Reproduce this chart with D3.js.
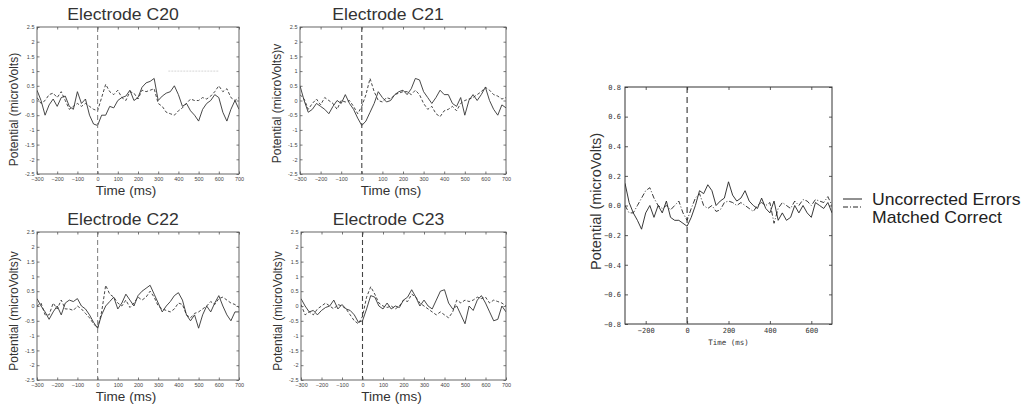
<!DOCTYPE html>
<html>
<head>
<meta charset="utf-8">
<script src="https://cdn.jsdelivr.net/npm/d3@7"></script>
<style>
  body { margin: 0; background: #fff; }
  svg { display: block; }
</style>
</head>
<body>
<svg id="chart" width="1026" height="411"></svg>
<script>
// Sample times (ms) shared by every trace, 20 ms apart
const times = d3.range(-300, 701, 20);

// Grand-average potentials (microvolts) per electrode
const c20Errors  = [0.35,0.0,-0.5,-0.15,0.05,-0.2,0.1,0.15,-0.2,-0.3,0.3,-0.1,0.05,-0.5,-0.8,-0.85,-0.5,-0.5,-0.2,-0.25,0.0,0.1,0.15,0.35,0.0,0.1,0.45,0.6,0.65,0.75,0.0,0.15,0.25,0.3,0.5,0.2,-0.2,-0.1,-0.35,-0.5,-0.7,-0.3,-0.1,0.0,0.2,0.1,-0.4,-0.7,-0.3,0.0,-0.3];
const c20Correct = [0.1,-0.1,0.0,0.2,0.25,0.1,0.3,0.0,-0.3,-0.2,-0.1,-0.2,-0.1,-0.2,-0.3,-0.35,0.1,0.55,0.3,0.2,0.35,0.1,0.0,0.3,0.25,0.05,0.35,0.3,0.35,0.4,-0.1,-0.2,-0.4,-0.45,-0.5,-0.35,-0.25,-0.1,0.05,0.0,0.0,0.1,0.05,0.15,0.3,0.5,0.3,0.4,0.1,0.0,0.1];
const c21Errors  = [0.5,0.0,-0.4,-0.3,-0.1,-0.2,-0.3,-0.45,-0.2,0.0,-0.1,0.2,-0.1,-0.3,-0.6,-0.85,-0.7,-0.4,-0.1,0.3,0.1,-0.05,0.0,0.2,0.3,0.35,0.2,0.4,0.75,0.7,0.3,0.1,-0.1,0.1,0.35,0.2,0.2,-0.1,-0.2,0.1,-0.5,0.0,0.2,0.0,0.2,0.45,0.0,-0.3,-0.5,-0.15,-0.25];
const c21Correct = [0.2,0.05,-0.3,-0.1,0.05,-0.15,0.1,0.0,-0.1,-0.3,0.0,-0.05,0.0,-0.2,-0.45,-0.2,0.2,0.75,0.3,0.0,-0.05,0.1,0.05,0.2,0.25,0.3,0.3,0.2,0.35,0.2,-0.1,-0.3,-0.2,-0.45,-0.55,-0.35,-0.3,-0.2,-0.35,-0.1,0.0,0.05,0.1,0.2,0.3,0.45,0.35,0.2,0.15,0.05,0.1];
const c22Errors  = [0.25,0.0,-0.2,-0.45,-0.2,0.0,-0.3,0.1,0.2,0.15,0.25,0.0,-0.1,-0.3,-0.55,-0.75,-0.3,0.0,0.15,0.3,-0.1,0.1,0.4,0.2,0.0,0.35,0.5,0.6,0.7,0.4,0.1,-0.2,0.0,0.15,0.35,0.45,0.2,-0.3,-0.5,-0.3,-0.75,-0.3,0.0,-0.2,0.1,0.35,0.0,-0.3,-0.5,-0.2,-0.2];
const c22Correct = [0.0,0.1,-0.3,-0.3,0.1,-0.1,0.2,-0.1,-0.1,-0.15,0.0,-0.1,-0.25,-0.4,-0.6,-0.75,-0.2,0.7,0.4,0.3,0.1,0.0,0.2,-0.05,0.1,0.3,0.2,0.3,0.5,0.3,0.0,-0.1,-0.15,-0.2,-0.1,0.1,0.05,-0.3,-0.4,-0.25,-0.2,-0.1,0.0,0.15,0.05,0.25,0.3,0.2,0.1,0.05,-0.05];
const c23Errors  = [0.25,0.0,-0.2,-0.15,-0.3,-0.15,-0.05,0.0,0.2,-0.1,0.05,-0.1,-0.15,-0.3,-0.55,-0.5,-0.1,0.35,0.3,0.0,-0.1,0.1,-0.1,0.0,-0.05,0.2,0.3,0.55,0.3,0.0,0.2,0.0,-0.1,0.2,0.5,0.55,0.1,-0.1,0.0,-0.3,-0.6,0.0,-0.15,0.2,0.35,0.1,-0.2,-0.5,-0.45,0.0,-0.2];
const c23Correct = [0.05,-0.3,-0.2,-0.3,-0.1,0.0,0.1,0.0,-0.1,0.05,0.0,-0.1,-0.3,-0.5,-0.6,-0.35,0.3,0.65,0.4,0.1,0.0,-0.05,0.0,-0.1,0.0,0.2,0.15,0.4,0.3,0.1,0.0,-0.1,-0.2,-0.3,-0.2,-0.3,-0.4,-0.2,0.2,0.1,0.2,0.15,0.2,0.3,0.25,0.3,0.1,0.2,0.15,0.1,0.0];
// Faint trace left on the C20 plot (microvolts)
const c20TraceTimes = [350, 600];
const c20TraceValues = [1.0, 1.0];

// Average over the electrode cluster
const meanErrors  = [0.15,0.02,-0.05,-0.1,-0.16,-0.05,0.0,-0.08,0.0,-0.05,0.03,-0.08,-0.1,-0.1,-0.12,-0.14,-0.08,0.0,0.1,0.08,0.14,0.1,0.0,0.03,0.05,0.16,0.07,0.03,0.05,0.1,0.03,0.0,-0.02,0.05,-0.02,-0.05,0.03,-0.1,-0.05,-0.1,-0.08,0.0,-0.05,0.0,-0.05,-0.08,0.02,0.0,-0.02,0.02,-0.05];
const meanCorrect = [0.0,-0.05,-0.05,0.0,0.05,0.1,0.12,0.05,0.0,-0.02,0.0,-0.03,0.0,0.03,-0.05,-0.1,-0.02,0.05,0.08,0.0,-0.02,0.0,-0.04,-0.03,0.02,0.03,0.02,0.0,0.02,0.0,-0.02,-0.04,0.0,0.02,0.0,0.02,-0.12,-0.02,0.02,0.0,-0.02,0.03,0.0,0.04,0.03,0.0,0.04,0.03,0.02,0.06,0.0];

// Axis ticks
const smallXTicks = [-300,-200,-100,0,100,200,300,400,500,600,700];
const smallYTicks = [-2.5,-2,-1.5,-1,-0.5,0,0.5,1,1.5,2,2.5];
const meanXTicks = [-200,0,200,400,600];
const meanYTicks = [-0.8,-0.6,-0.4,-0.2,0,0.2,0.4,0.6,0.8];

const legendLabels = ["Uncorrected Errors", "Matched Correct"];

const svg = d3.select("#chart");
const SX = 1.1; // horizontal stretch applied to the larger labels

function label(g, x, y, str, size, opts = {}) {
  return g.append("text")
    .attr("transform", `translate(${x},${y})` + (opts.rotate ? ` rotate(${opts.rotate})` : ` scale(${opts.sx || SX},1)`))
    .attr("text-anchor", opts.anchor || "middle")
    .attr("font-family", opts.family || "Liberation Sans, Arial, sans-serif")
    .attr("font-size", size)
    .attr("fill", opts.fill || "#333")
    .text(str);
}

function frameAxes(g, x, y, xTicks, yTicks, o) {
  const W = x.range()[1], H = y.range()[0];
  const ax = (axis, tr, showLabels) => {
    const a = g.append("g").attr("transform", tr).call(axis);
    a.select(".domain").remove();
    a.selectAll(".tick line").attr("stroke", o.stroke).attr("stroke-width", 0.8);
    if (!showLabels) a.selectAll(".tick text").remove();
    else a.selectAll(".tick text")
      .attr("font-family", o.tickFamily).attr("font-size", o.tickSize).attr("fill", o.tickFill);
    return a;
  };
  ax(d3.axisBottom(x).tickValues(xTicks).tickSizeInner(-o.tick).tickSizeOuter(0).tickPadding(o.padX).tickFormat(o.fx), `translate(0,${H})`, true);
  ax(d3.axisTop(x).tickValues(xTicks).tickSizeInner(-o.tick).tickSizeOuter(0), `translate(0,0)`, false);
  ax(d3.axisLeft(y).tickValues(yTicks).tickSizeInner(-o.tick).tickSizeOuter(0).tickPadding(o.padY).tickFormat(o.fy), `translate(0,0)`, true);
  ax(d3.axisRight(y).tickValues(yTicks).tickSizeInner(-o.tick).tickSizeOuter(0), `translate(${W},0)`, false);
  g.append("rect").attr("x", 0).attr("y", 0).attr("width", W).attr("height", H)
    .attr("fill", "none").attr("stroke", o.stroke).attr("stroke-width", o.frameWidth);
}

// ---- four electrode panels ----
const panels = [
  { name: "Electrode C20", ylab: "Potential (microVolts)",  err: c20Errors, cor: c20Correct, x0: 37,  y0: 27, x1: 239, y1: 174, zero: "#888", ly: 9 },
  { name: "Electrode C21", ylab: "Potential (microVolts)v", err: c21Errors, cor: c21Correct, x0: 300, y0: 27, x1: 506, y1: 174, zero: "#444", ly: 3 },
  { name: "Electrode C22", ylab: "Potential (microVolts)v", err: c22Errors, cor: c22Correct, x0: 37,  y0: 232, x1: 239, y1: 380, zero: "#888", ly: 5 },
  { name: "Electrode C23", ylab: "Potential (microVolts)v", err: c23Errors, cor: c23Correct, x0: 301, y0: 232, x1: 506, y1: 380, zero: "#444", ly: 5 }
];

panels.forEach((p, i) => {
  const W = p.x1 - p.x0, H = p.y1 - p.y0;
  const g = svg.append("g").attr("transform", `translate(${p.x0},${p.y0})`);
  const x = d3.scaleLinear().domain([-300, 700]).range([0, W]);
  const y = d3.scaleLinear().domain([-2.5, 2.5]).range([H, 0]);
  const line = d3.line().x((d, k) => x(times[k])).y(d => y(d));

  const clipId = "clip" + i;
  g.append("clipPath").attr("id", clipId).append("rect").attr("width", W).attr("height", H);
  const plot = g.append("g").attr("clip-path", `url(#${clipId})`);

  if (i === 0) {
    plot.append("path")
      .attr("d", d3.line().x((d, k) => x(c20TraceTimes[k])).y(d => y(d))(c20TraceValues))
      .attr("fill", "none").attr("stroke", "#ccc").attr("stroke-width", 0.8)
      .attr("stroke-dasharray", "2,1");
  }

  plot.append("path").attr("d", line(p.cor))
    .attr("fill", "none").attr("stroke", "#333").attr("stroke-width", 0.9)
    .attr("stroke-dasharray", "3,2");
  plot.append("path").attr("d", line(p.err))
    .attr("fill", "none").attr("stroke", "#333").attr("stroke-width", 0.9);

  plot.append("line")
    .attr("x1", x(0)).attr("x2", x(0)).attr("y1", 0).attr("y2", H)
    .attr("stroke", p.zero).attr("stroke-width", 1.1).attr("stroke-dasharray", "5,3");

  frameAxes(g, x, y, smallXTicks, smallYTicks, {
    tick: 2.5, stroke: "#555", frameWidth: 0.9,
    tickFamily: "Liberation Sans, Arial, sans-serif", tickSize: 5.5, tickFill: "#444",
    padX: 3, padY: 2.5, fx: d3.format("d"), fy: d => String(d)
  });

  label(g, W / 2 - 15, -7, p.name, 16);
  label(g, W / 2 - 12, H + 21, "Time (ms)", 12.3);
  label(g, -19, H / 2 + p.ly, p.ylab, 12, { rotate: -90 });
});

// ---- cluster average panel ----
{
  const x0 = 625, y0 = 87, x1 = 832, y1 = 324;
  const W = x1 - x0, H = y1 - y0;
  const g = svg.append("g").attr("transform", `translate(${x0},${y0})`);
  const x = d3.scaleLinear().domain([-300, 700]).range([0, W]);
  const y = d3.scaleLinear().domain([-0.8, 0.8]).range([H, 0]);
  const line = d3.line().x((d, k) => x(times[k])).y(d => y(d));

  g.append("clipPath").attr("id", "clipMean").append("rect").attr("width", W).attr("height", H);
  const plot = g.append("g").attr("clip-path", "url(#clipMean)");
  plot.append("path").attr("d", line(meanCorrect))
    .attr("fill", "none").attr("stroke", "#222").attr("stroke-width", 0.9)
    .attr("stroke-dasharray", "5,2,1,2");
  plot.append("path").attr("d", line(meanErrors))
    .attr("fill", "none").attr("stroke", "#222").attr("stroke-width", 0.9);
  plot.append("line")
    .attr("x1", x(0)).attr("x2", x(0)).attr("y1", 0).attr("y2", H)
    .attr("stroke", "#333").attr("stroke-width", 1.1).attr("stroke-dasharray", "6,4");

  frameAxes(g, x, y, meanXTicks, meanYTicks, {
    tick: 3, stroke: "#333", frameWidth: 1,
    tickFamily: "DejaVu Sans Mono, monospace", tickSize: 7, tickFill: "#333",
    padX: 4, padY: 4, fx: d3.format("d"), fy: d3.format(".1f")
  });

  label(g, W / 2, H + 21, "Time (ms)", 7.5, { family: "DejaVu Sans Mono, monospace", sx: 1 });
  label(g, -24, H / 2 - 4, "Potential (microVolts)", 14.5, { rotate: -90 });

  // legend
  const lg = svg.append("g").attr("transform", "translate(843,199)");
  const styles = [null, "5,2,1,2"];
  legendLabels.forEach((t, k) => {
    lg.append("line").attr("x1", 0).attr("x2", 19).attr("y1", k * 8).attr("y2", k * 8)
      .attr("stroke", "#222").attr("stroke-width", 1)
      .attr("stroke-dasharray", styles[k]);
    label(lg, 29, 6 + k * 18, t, 16, { anchor: "start", fill: "#222" });
  });
}
</script>
</body>
</html>
